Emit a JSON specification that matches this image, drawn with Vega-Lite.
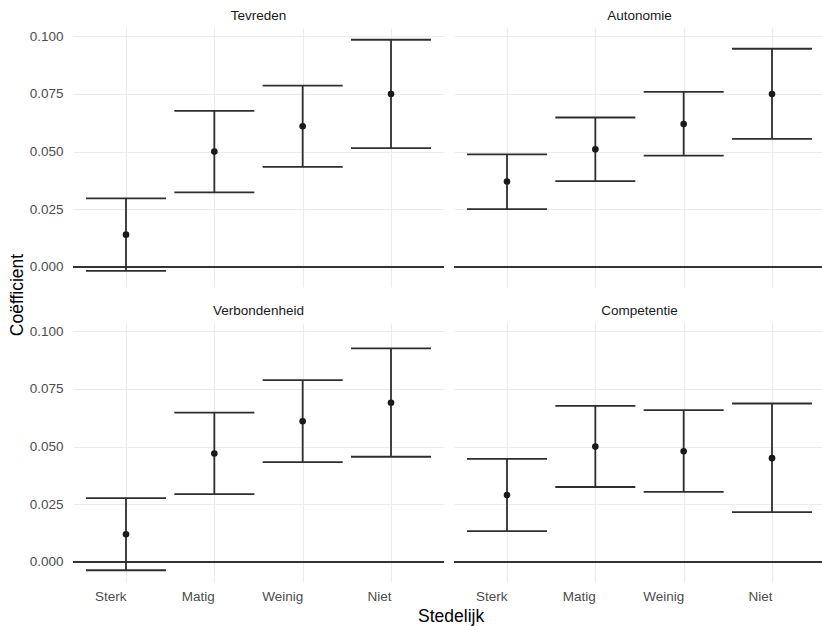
{
  "$schema": "https://vega.github.io/schema/vega-lite/v6.json",
  "background": "white",
  "padding": {"left": 8, "top": 8, "right": 0, "bottom": 4},
  "title": {"text": "Stedelijk", "orient": "bottom", "anchor": "middle", "font": "Liberation Sans", "fontSize": 17.5, "fontWeight": "normal", "color": "#000000", "offset": 5, "dx": 34},
  "data": {"values": [
    {"schaal": "Tevreden", "stedelijk": "Sterk", "coef": 0.014, "lo": -0.0017, "hi": 0.0297},
    {"schaal": "Tevreden", "stedelijk": "Matig", "coef": 0.050, "lo": 0.0323, "hi": 0.0677},
    {"schaal": "Tevreden", "stedelijk": "Weinig", "coef": 0.061, "lo": 0.0434, "hi": 0.0786},
    {"schaal": "Tevreden", "stedelijk": "Niet", "coef": 0.075, "lo": 0.0515, "hi": 0.0985},
    {"schaal": "Autonomie", "stedelijk": "Sterk", "coef": 0.037, "lo": 0.0251, "hi": 0.0488},
    {"schaal": "Autonomie", "stedelijk": "Matig", "coef": 0.051, "lo": 0.0372, "hi": 0.0648},
    {"schaal": "Autonomie", "stedelijk": "Weinig", "coef": 0.062, "lo": 0.0483, "hi": 0.0759},
    {"schaal": "Autonomie", "stedelijk": "Niet", "coef": 0.075, "lo": 0.0555, "hi": 0.0946},
    {"schaal": "Verbondenheid", "stedelijk": "Sterk", "coef": 0.012, "lo": -0.0036, "hi": 0.0277},
    {"schaal": "Verbondenheid", "stedelijk": "Matig", "coef": 0.047, "lo": 0.0294, "hi": 0.0647},
    {"schaal": "Verbondenheid", "stedelijk": "Weinig", "coef": 0.061, "lo": 0.0433, "hi": 0.0788},
    {"schaal": "Verbondenheid", "stedelijk": "Niet", "coef": 0.069, "lo": 0.0456, "hi": 0.0926},
    {"schaal": "Competentie", "stedelijk": "Sterk", "coef": 0.029, "lo": 0.0134, "hi": 0.0447},
    {"schaal": "Competentie", "stedelijk": "Matig", "coef": 0.050, "lo": 0.0325, "hi": 0.0677},
    {"schaal": "Competentie", "stedelijk": "Weinig", "coef": 0.048, "lo": 0.0304, "hi": 0.0658},
    {"schaal": "Competentie", "stedelijk": "Niet", "coef": 0.045, "lo": 0.0216, "hi": 0.0687}
  ]},
  "facet": {
    "field": "schaal", "type": "nominal",
    "sort": ["Tevreden", "Autonomie", "Verbondenheid", "Competentie"],
    "header": {
      "title": "Coëfficient", "titleOrient": "left", "titleFont": "Liberation Sans", "titleFontSize": 17.5, "titleFontWeight": "normal", "titleColor": "#000000", "titlePadding": 3,
      "labelOrient": "top", "labelFont": "Liberation Sans", "labelFontSize": 13.5, "labelColor": "#1A1A1A", "labelPadding": 6
    }
  },
  "columns": 2,
  "spacing": {"row": 16, "column": 8},
  "spec": {
    "width": 371,
    "height": 259,
    "layer": [
      {
        "mark": {"type": "rule", "color": "#333333", "strokeWidth": 1.4},
        "encoding": {"y": {"datum": 0, "type": "quantitative", "scale": {"domain": [-0.0087, 0.1036], "nice": false, "zero": false}}}
      },
      {
        "mark": {"type": "rule", "color": "#2E2E2E", "strokeWidth": 1.8},
        "encoding": {
          "x": {"field": "stedelijk", "type": "nominal", "sort": ["Sterk", "Matig", "Weinig", "Niet"], "scale": {"type": "point", "padding": 0.6}},
          "y": {"field": "lo", "type": "quantitative"},
          "y2": {"field": "hi"}
        }
      },
      {
        "mark": {"type": "tick", "color": "#2E2E2E", "size": 80, "thickness": 1.8, "opacity": 1},
        "encoding": {
          "x": {"field": "stedelijk", "type": "nominal", "sort": ["Sterk", "Matig", "Weinig", "Niet"]},
          "y": {"field": "lo", "type": "quantitative"}
        }
      },
      {
        "mark": {"type": "tick", "color": "#2E2E2E", "size": 80, "thickness": 1.8, "opacity": 1},
        "encoding": {
          "x": {"field": "stedelijk", "type": "nominal", "sort": ["Sterk", "Matig", "Weinig", "Niet"]},
          "y": {"field": "hi", "type": "quantitative"}
        }
      },
      {
        "mark": {"type": "point", "filled": true, "size": 44, "color": "#1A1A1A", "opacity": 1},
        "encoding": {
          "x": {"field": "stedelijk", "type": "nominal", "sort": ["Sterk", "Matig", "Weinig", "Niet"], "title": null,
            "axis": {"domain": false, "ticks": false, "grid": true, "gridColor": "#EBEBEB", "gridWidth": 1.1, "labelFont": "Liberation Sans", "labelFontSize": 13.5, "labelColor": "#4D4D4D", "labelPadding": 14, "labelAngle": 0}},
          "y": {"field": "coef", "type": "quantitative", "title": null,
            "axis": {"domain": false, "ticks": false, "grid": true,
              "values": [0, 0.0125, 0.025, 0.0375, 0.05, 0.0625, 0.075, 0.0875, 0.1],
              "labelExpr": "abs(datum.value*40 - round(datum.value*40)) < 0.01 ? format(datum.value, '.3f') : ''",
              "gridColor": {"condition": {"test": "abs(datum.value*40 - round(datum.value*40)) < 0.01", "value": "#EBEBEB"}, "value": "#F1F1F1"},
              "gridWidth": {"condition": {"test": "abs(datum.value*40 - round(datum.value*40)) < 0.01", "value": 1.1}, "value": 0.8},
              "labelFont": "Liberation Sans", "labelFontSize": 13.5, "labelColor": "#4D4D4D", "labelPadding": 9}}
        }
      }
    ]
  },
  "config": {"view": {"stroke": null}}
}
